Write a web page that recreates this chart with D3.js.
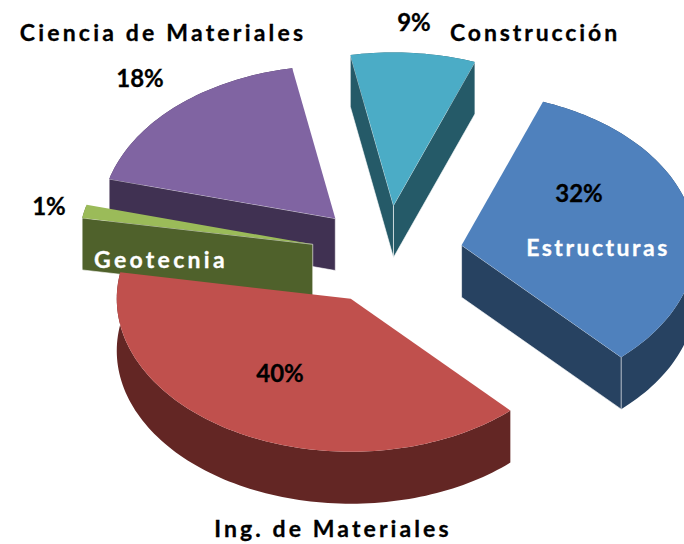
<!DOCTYPE html>
<html>
<head>
<meta charset="utf-8">
<script src="https://cdn.jsdelivr.net/npm/d3@7/dist/d3.min.js"></script>
<style>
html,body{margin:0;padding:0;background:#fff;overflow:hidden}
svg{display:block}
text{font-family:Lato,"Open Sans",sans-serif;font-weight:700;text-anchor:middle}
</style>
</head>
<body>
<svg id="chart" width="684" height="544"></svg>
<script>
// Data
const categories = ["Construcción", "Estructuras", "Ing. de Materiales", "Geotecnia", "Ciencia de Materiales"];
const shares = [8.6, 32.4, 39.7, 1.4, 17.9];
const topColors = ["#4bacc6", "#4f81bd", "#c0504d", "#9bbb59", "#8064a2"];
const wallColors = ["#255a68", "#274261", "#632624", "#4f612b", "#403152"];

// Placement of the texts (centre x, baseline y, tracking)
const nameSpots = [[535, 41], [598, 256], [333, 537], [161, 268], [163, 41]];
const nameTracking = [2.9, 2.5, 3.1, 3.3, 3.2];
const nameColors = ["#000", "#fff", "#000", "#fff", "#000"];
const shareSpots = [[414, 31], [579, 202], [280, 382], [49, 215], [140, 87]];

// Projection of the tilted pie
const W = 684, H = 544;
const CX = 387, CY = 255, RX = 234, RY = 153, DEPTH = 52, EXPLODE = 0.325;
const START = -10.6 * Math.PI / 180;
const x = d3.scaleLinear().domain([-1, 1]).range([CX - RX, CX + RX]);
const y = d3.scaleLinear().domain([-1, 1]).range([CY - RY, CY + RY]);

const svg = d3.select("#chart");
svg.append("rect").attr("width", W).attr("height", H).attr("fill", "#fff");

const pie = d3.pie().sort(null).startAngle(START).endAngle(START + 2 * Math.PI);
const arcs = pie(shares);
const line = d3.line().x(p => p[0]).y(p => p[1]);

function geom(a) {
  const mid = (a.startAngle + a.endAngle) / 2;
  const ox = EXPLODE * Math.sin(mid), oy = -EXPLODE * Math.cos(mid);
  const at = (t, r) => [x(ox + r * Math.sin(t)), y(oy - r * Math.cos(t))];
  const n = Math.max(4, Math.ceil((a.endAngle - a.startAngle) * 40));
  const rim = d3.range(n + 1).map(i => at(a.startAngle + (a.endAngle - a.startAngle) * i / n, 1));
  return { apex: at(0, 0), rim };
}
const drop = p => [p[0], p[1] + DEPTH];

// painter's order: back to front
const order = [0, 4, 1, 3, 2];
order.forEach(i => {
  const a = arcs[i];
  const g = geom(a);
  const s = svg.append("g");
  const first = g.rim[0], last = g.rim[g.rim.length - 1];
  // outer wall
  s.append("path")
    .attr("d", line(g.rim.concat(g.rim.map(drop).reverse())) + "Z")
    .attr("fill", wallColors[i]);
  // radial walls that face the viewer
  const faces = [];
  if (Math.sin(a.startAngle) < 0) faces.push(first);
  if (Math.sin(a.endAngle) > 0) faces.push(last);
  faces.forEach(e => {
    s.append("path")
      .attr("d", line([g.apex, e, drop(e), drop(g.apex)]) + "Z")
      .attr("fill", wallColors[i])
      .attr("stroke", "#fff").attr("stroke-opacity", 0.6).attr("stroke-width", 1);
  });
  // top face
  s.append("path")
    .attr("d", line([g.apex].concat(g.rim)) + "Z")
    .attr("fill", topColors[i]);
});

// Category names
svg.selectAll("text.name").data(categories).join("text")
  .attr("class", "name")
  .attr("x", (d, i) => nameSpots[i][0])
  .attr("y", (d, i) => nameSpots[i][1])
  .attr("fill", (d, i) => nameColors[i])
  .attr("stroke", (d, i) => nameColors[i])
  .attr("stroke-width", 0.3)
  .attr("font-size", 23)
  .attr("letter-spacing", (d, i) => nameTracking[i])
  .text(d => d);

// Percentages
svg.selectAll("text.share").data(shares).join("text")
  .attr("class", "share")
  .attr("x", (d, i) => shareSpots[i][0])
  .attr("y", (d, i) => shareSpots[i][1])
  .attr("fill", "#000")
  .attr("stroke", "#000")
  .attr("stroke-width", 0.3)
  .attr("font-size", 24)
  .text(d => Math.round(d) + "%");
</script>
</body>
</html>
